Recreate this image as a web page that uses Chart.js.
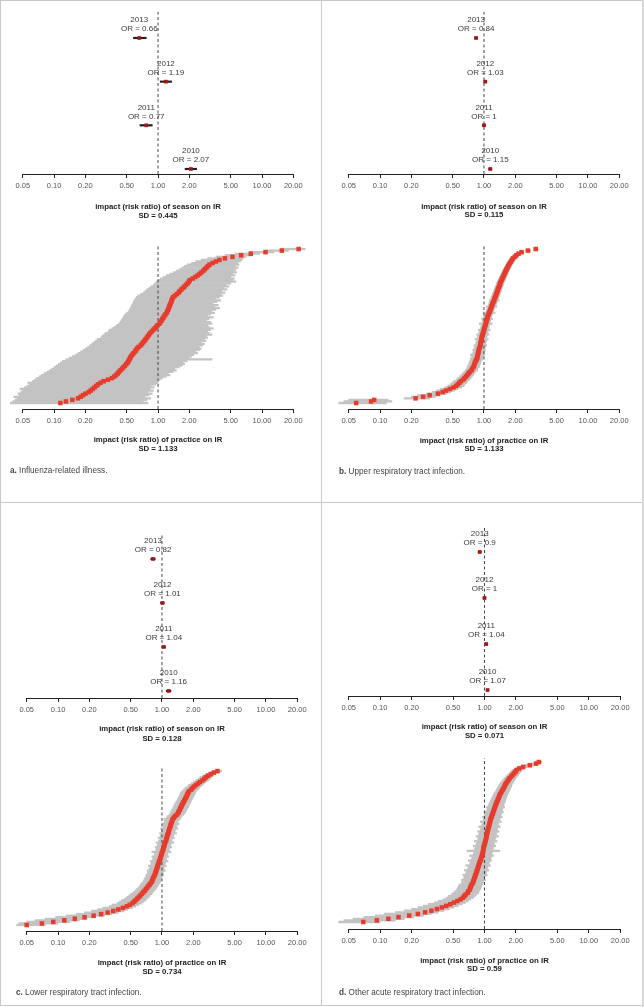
<!DOCTYPE html>
<html>
<head>
<meta charset="utf-8">
<script src="https://cdn.jsdelivr.net/npm/chart.js@4.4.0/dist/chart.umd.min.js"></script>
<style>
body { margin: 0; background: #fff; width: 644px; height: 1007px; position: relative; overflow: hidden; font-family: "Liberation Sans", Arial, sans-serif; }
canvas { position: absolute; }
.rule { position: absolute; background: #c8c8c8; }
.ttl { position: absolute; width: 260px; text-align: center; font-size: 7.8px; line-height: 9px; font-weight: bold; color: #222; white-space: nowrap; }
.cap { position: absolute; font-size: 8.2px; line-height: 9px; color: #444; white-space: nowrap; }
</style>
</head>
<body>
<div class="rule" style="left:0;top:0;width:642px;height:1px"></div>
<div class="rule" style="left:0;top:0;width:1px;height:1006px"></div>
<div class="rule" style="left:0;top:1005px;width:642px;height:1px"></div>
<div class="rule" style="left:321px;top:0;width:1px;height:1006px"></div>
<div class="rule" style="left:0;top:502px;width:642px;height:1px"></div>
<div class="rule" style="left:642px;top:0;width:2px;height:1007px;background:#d6d6d6"></div>

<script>
// --- data ---
const tickVals = [0.05, 0.1, 0.2, 0.5, 1, 2, 5, 10, 20];
const seasonYears = [2013, 2012, 2011, 2010];

const seasonA = [0.66, 1.19, 0.77, 2.07];
const seasonALo = [0.58, 1.05, 0.67, 1.82];
const seasonAHi = [0.77, 1.35, 0.88, 2.35];
const seasonB = [0.84, 1.03, 1, 1.15];
const seasonBLo = [0.81, 1.00, 0.97, 1.11];
const seasonBHi = [0.87, 1.06, 1.03, 1.19];
const seasonC = [0.82, 1.01, 1.04, 1.16];
const seasonCLo = [0.78, 0.97, 1.00, 1.10];
const seasonCHi = [0.86, 1.05, 1.08, 1.22];
const seasonD = [0.9, 1, 1.04, 1.07];
const seasonDLo = [0.87, 0.97, 1.01, 1.04];
const seasonDHi = [0.93, 1.03, 1.07, 1.10];

const sdSeason = ['0.445', '0.115', '0.128', '0.071'];
const sdPractice = ['1.133', '1.133', '0.734', '0.59'];
const captions = [
    ['a.', 'Influenza-related illness.'],
    ['b.', 'Upper respiratory tract infection.'],
    ['c.', 'Lower respiratory tract infection.'],
    ['d.', 'Other acute respiratory tract infection.']
];

// practices sorted by estimate (bottom to top)
const pracAEst = [.115,.13,.15,.17,.18,.19,.20,.215,.225,.235,
    .245,.255,.265,.28,.30,.33,.36,.38,.395,.41,
    .42,.435,.45,.465,.48,.495,.51,.52,.53,.54,
    .55,.565,.58,.60,.615,.63,.65,.68,.70,.72,
    .74,.76,.78,.80,.82,.84,.87,.90,.93,.96,
    .99,1.03,1.05,1.08,1.10,1.13,1.15,1.18,1.21,1.23,
    1.25,1.27,1.28,1.30,1.32,1.34,1.35,1.37,1.40,1.45,
    1.52,1.58,1.62,1.68,1.74,1.80,1.86,1.93,1.98,2.02,
    2.15,2.28,2.40,2.51,2.62,2.72,2.82,2.92,3.02,3.13,
    3.35,3.6,3.9,4.4,5.2,6.3,7.8,10.8,15.5,22.5];
const pracALo = [.038,.040,.042,.044,.041,.046,.045,.048,.050,.047,
    .052,.055,.058,.056,.062,.065,.068,.072,.075,.080,
    .085,.090,.095,.10,.105,.11,.115,.12,.13,.14,
    .15,.16,.17,.18,.19,.20,.21,.22,.23,.24,
    .25,.26,.28,.29,.30,.31,.33,.34,.36,.38,
    .40,.42,.43,.44,.45,.46,.47,.48,.50,.52,
    .53,.54,.55,.56,.57,.58,.59,.60,.62,.64,
    .68,.72,.75,.78,.82,.86,.90,.93,.96,1.0,
    1.05,1.12,1.2,1.3,1.4,1.5,1.6,1.7,1.8,1.9,
    2.1,2.3,2.6,3.0,3.6,4.4,5.5,7.6,11,15];
const pracAHi = [.80,.72,.78,.85,.75,.82,.88,.80,.90,.84,
    .92,.86,.95,1.0,.97,1.05,1.1,1.2,1.3,1.25,
    1.4,1.5,1.45,1.6,1.7,1.8,1.75,1.9,3.3,2.0,
    2.1,2.2,2.4,2.3,2.5,2.6,2.5,2.7,2.8,2.6,
    2.9,2.8,3.0,2.9,3.3,3.1,3.0,3.2,3.4,3.1,
    3.0,3.3,3.2,2.9,3.1,3.4,3.0,3.2,3.5,3.3,
    3.6,3.9,3.5,3.8,3.4,3.7,4.0,3.6,3.9,4.2,
    4.0,4.4,4.1,4.6,4.3,4.8,4.5,5.0,5.6,5.2,
    5.4,5.0,5.5,5.2,5.7,5.4,5.6,5.9,5.5,6.0,
    5.8,6.2,6.4,6.6,7.0,8.0,9.5,13,18,26];

const pracBEst = [.059,.082,.088,.22,.26,.30,.36,.40,.43,.47,
    .51,.54,.56,.58,.60,.63,.65,.67,.69,.71,
    .73,.76,.77,.79,.80,.81,.82,.83,.85,.86,
    .865,.87,.88,.885,.89,.90,.915,.92,.925,.93,
    .94,.945,.95,.96,.97,.98,.99,1.00,1.01,1.02,
    1.03,1.04,1.05,1.06,1.07,1.08,1.09,1.11,1.12,1.14,
    1.15,1.17,1.18,1.20,1.21,1.23,1.25,1.26,1.28,1.30,
    1.31,1.33,1.35,1.36,1.38,1.40,1.42,1.43,1.45,1.48,
    1.50,1.52,1.55,1.57,1.60,1.62,1.65,1.68,1.71,1.74,
    1.78,1.82,1.86,1.90,1.98,2.05,2.15,2.30,2.65,3.15];
const pracBLo = [.040,.045,.050,.17,.20,.23,.28,.32,.35,.38,
    .42,.45,.47,.49,.51,.54,.56,.58,.60,.62,
    .64,.66,.68,.69,.70,.71,.72,.73,.74,.75,
    .76,.74,.78,.79,.78,.80,.82,.80,.83,.84,
    .85,.82,.86,.87,.85,.89,.90,.88,.92,.93,
    .94,.90,.96,.97,.95,.99,1.00,1.02,.98,1.05,
    1.06,1.08,1.05,1.10,1.11,1.13,1.12,1.16,1.17,1.19,
    1.20,1.22,1.24,1.25,1.27,1.29,1.31,1.32,1.34,1.37,
    1.39,1.41,1.44,1.46,1.49,1.51,1.54,1.57,1.60,1.63,
    1.67,1.71,1.75,1.79,1.87,1.94,2.04,2.18,2.50,3.00];
const pracBHi = [.115,.13,.12,.30,.34,.38,.44,.48,.52,.56,
    .61,.64,.66,.68,.70,.73,.75,.77,.79,.81,
    .83,.87,.87,.90,.91,.92,.93,.94,.97,.98,
    .99,1.02,1.00,1.00,1.03,1.02,1.03,1.06,1.04,1.05,
    1.06,1.10,1.06,1.07,1.12,1.09,1.10,1.15,1.11,1.12,
    1.13,1.20,1.15,1.16,1.21,1.18,1.19,1.21,1.28,1.24,
    1.25,1.27,1.33,1.31,1.32,1.34,1.40,1.37,1.39,1.42,
    1.43,1.45,1.47,1.48,1.50,1.52,1.54,1.55,1.57,1.60,
    1.62,1.64,1.67,1.69,1.72,1.74,1.77,1.80,1.83,1.86,
    1.90,1.94,1.98,2.02,2.10,2.17,2.27,2.42,2.80,3.30];

const pracCEst = [.05,.07,.09,.115,.145,.18,.22,.26,.30,.34,
    .38,.42,.46,.49,.52,.54,.56,.58,.60,.62,
    .64,.66,.68,.70,.72,.74,.76,.78,.80,.81,
    .82,.835,.85,.86,.87,.88,.89,.90,.91,.92,
    .93,.94,.955,.965,.975,.985,.995,1.005,1.02,1.03,
    1.04,1.05,1.06,1.07,1.09,1.10,1.11,1.12,1.13,1.15,
    1.16,1.17,1.18,1.20,1.21,1.22,1.24,1.25,1.27,1.30,
    1.34,1.39,1.43,1.45,1.48,1.50,1.53,1.55,1.58,1.61,
    1.64,1.67,1.70,1.73,1.76,1.78,1.82,1.90,1.96,2.03,
    2.12,2.22,2.32,2.45,2.55,2.65,2.78,2.95,3.15,3.42];
const pracCLo = [.040,.042,.050,.060,.075,.095,.12,.15,.18,.21,
    .24,.27,.31,.33,.37,.39,.41,.44,.46,.48,
    .50,.53,.55,.57,.59,.61,.62,.64,.66,.67,
    .68,.70,.70,.72,.73,.72,.75,.76,.74,.78,
    .79,.77,.81,.82,.80,.84,.85,.80,.87,.88,
    .86,.90,.91,.88,.93,.95,.92,.96,.97,.95,
    .99,1.00,.97,1.02,1.03,1.00,1.05,1.06,1.04,1.10,
    1.13,1.17,1.20,1.22,1.24,1.26,1.29,1.31,1.33,1.36,
    1.39,1.41,1.44,1.47,1.49,1.51,1.55,1.61,1.66,1.73,
    1.80,1.90,2.00,2.12,2.22,2.32,2.45,2.62,2.82,3.10];
const pracCHi = [.075,.10,.13,.16,.19,.23,.28,.33,.38,.43,
    .47,.52,.56,.60,.64,.67,.70,.72,.75,.77,
    .80,.82,.84,.87,.89,.91,.93,.95,.97,.98,
    .99,1.00,1.04,1.02,1.03,1.08,1.04,1.05,1.10,1.07,
    1.08,1.14,1.10,1.11,1.16,1.13,1.14,1.22,1.17,1.18,
    1.24,1.20,1.22,1.30,1.24,1.25,1.32,1.29,1.30,1.38,
    1.33,1.35,1.42,1.38,1.40,1.46,1.42,1.44,1.50,1.52,
    1.56,1.62,1.67,1.70,1.73,1.76,1.80,1.82,1.86,1.89,
    1.93,1.96,2.00,2.03,2.07,2.10,2.14,2.22,2.28,2.35,
    2.45,2.55,2.65,2.80,2.90,3.00,3.12,3.30,3.50,3.75];

const pracDEst = [.069,.093,.12,.15,.19,.23,.27,.31,.35,.39,
    .43,.47,.51,.55,.59,.62,.64,.66,.69,.70,
    .72,.73,.74,.75,.77,.78,.79,.80,.81,.82,
    .83,.84,.85,.86,.87,.88,.89,.90,.915,.925,
    .935,.945,.955,.965,.97,.975,.98,.99,1.00,1.01,
    1.02,1.03,1.04,1.045,1.05,1.06,1.07,1.08,1.09,1.10,
    1.11,1.12,1.13,1.14,1.15,1.17,1.18,1.20,1.21,1.23,
    1.24,1.26,1.27,1.29,1.31,1.33,1.35,1.37,1.39,1.41,
    1.44,1.47,1.50,1.53,1.56,1.58,1.62,1.66,1.70,1.74,
    1.80,1.86,1.92,1.98,2.03,2.15,2.35,2.72,3.12,3.32];
const pracDLo = [.040,.045,.055,.07,.09,.11,.14,.17,.20,.23,
    .26,.29,.33,.36,.40,.43,.45,.48,.50,.52,
    .54,.55,.56,.57,.60,.61,.60,.63,.64,.62,
    .66,.67,.64,.69,.70,.66,.72,.73,.70,.75,
    .76,.72,.78,.79,.68,.80,.81,.78,.83,.84,
    .80,.86,.87,.83,.88,.89,.86,.91,.92,.88,
    .94,.95,.91,.97,.98,.95,1.00,1.02,.99,1.05,
    1.06,1.04,1.09,1.10,1.12,1.14,1.16,1.18,1.20,1.22,
    1.25,1.28,1.30,1.33,1.36,1.38,1.42,1.46,1.50,1.54,
    1.60,1.66,1.72,1.78,1.84,1.95,2.10,2.45,2.85,3.05];
const pracDHi = [.10,.14,.17,.21,.26,.31,.36,.41,.46,.51,
    .56,.61,.66,.70,.74,.78,.81,.84,.88,.89,
    .91,.93,.94,.95,.97,.98,1.02,1.00,1.01,1.06,
    1.04,1.05,1.10,1.07,1.08,1.14,1.10,1.12,1.17,1.15,
    1.16,1.22,1.18,1.19,1.40,1.21,1.22,1.28,1.24,1.25,
    1.32,1.27,1.28,1.36,1.30,1.31,1.38,1.33,1.34,1.42,
    1.36,1.37,1.45,1.40,1.41,1.48,1.44,1.46,1.52,1.49,
    1.50,1.56,1.53,1.55,1.57,1.59,1.61,1.63,1.65,1.67,
    1.70,1.73,1.76,1.79,1.82,1.84,1.88,1.92,1.96,2.00,
    2.06,2.12,2.18,2.24,2.30,2.42,2.58,2.95,3.35,3.55];

// --- layout (pixel geometry of each plot) ---
const panels = [
    { x: 0,   cx: 158,   capX: 10,  capY: 470,
      season:   { left: 21, right: 295, top: 12,  axis: 174, ymin: 0.885, ymax: 4.595, tY: 206.5, sdY: 215 },
      practice: { left: 21, right: 295, top: 245, axis: 409, ymin: -3.86, ymax: 101.6, tY: 439.5, sdY: 448.3 } },
    { x: 322, cx: 484,   capX: 339, capY: 471,
      season:   { left: 347, right: 621, top: 12,  axis: 174, ymin: 0.885, ymax: 4.595, tY: 206, sdY: 214.5 },
      practice: { left: 347, right: 621, top: 245, axis: 409, ymin: -3.86, ymax: 101.6, tY: 440, sdY: 448.5 } },
    { x: 0,   cx: 162,   capX: 16,  capY: 992,
      season:   { left: 25, right: 299, top: 533, axis: 698, ymin: 0.84, ymax: 4.59, tY: 728, sdY: 738 },
      practice: { left: 25, right: 299, top: 767, axis: 931, ymin: -3.86, ymax: 101.6, tY: 962, sdY: 971.5 } },
    { x: 322, cx: 484.5, capX: 339, capY: 992,
      season:   { left: 347, right: 622, top: 526, axis: 696, ymin: 0.87, ymax: 4.565, tY: 726.7, sdY: 735.5 },
      practice: { left: 347, right: 622, top: 758, axis: 929, ymin: -4.33, ymax: 101.5, tY: 960, sdY: 968.5 } }
];

const seasonSets = [
    [seasonA, seasonALo, seasonAHi], [seasonB, seasonBLo, seasonBHi],
    [seasonC, seasonCLo, seasonCHi], [seasonD, seasonDLo, seasonDHi]
];
const practiceSets = [
    [pracAEst, pracALo, pracAHi], [pracBEst, pracBLo, pracBHi],
    [pracCEst, pracCLo, pracCHi], [pracDEst, pracDLo, pracDHi]
];

Chart.defaults.font.family = '"Liberation Sans", Arial, sans-serif';
Chart.defaults.animation = false;

// year / OR text above each season estimate
const orLabels = {
    id: 'orLabels',
    afterDatasetsDraw(chart) {
        const ctx = chart.ctx;
        const meta = chart.getDatasetMeta(0);
        const vals = chart.data.datasets[0].data;
        ctx.save();
        ctx.font = '8px "Liberation Sans", Arial, sans-serif';
        ctx.fillStyle = '#3a3a3a';
        ctx.textAlign = 'center';
        ctx.textBaseline = 'middle';
        meta.data.forEach((pt, i) => {
            ctx.fillText(String(seasonYears[i]), pt.x, pt.y - 18);
            ctx.fillText('OR = ' + String(vals[i].x), pt.x, pt.y - 9);
        });
        ctx.restore();
    }
};

// R style axis: line only from first to last tick
const axisLine = {
    id: 'axisLine',
    afterDraw(chart) {
        const sx = chart.scales.x;
        const ctx = chart.ctx;
        const y = Math.floor(chart.chartArea.bottom) + 0.5;
        ctx.save();
        ctx.strokeStyle = '#222';
        ctx.lineWidth = 1;
        ctx.beginPath();
        ctx.moveTo(Math.round(sx.getPixelForValue(tickVals[0])), y);
        ctx.lineTo(Math.round(sx.getPixelForValue(tickVals[tickVals.length - 1])) + 1, y);
        ctx.stroke();
        ctx.restore();
    }
};

function addText(cls, left, top, html) {
    const d = document.createElement('div');
    d.className = cls;
    d.style.left = left + 'px';
    d.style.top = top + 'px';
    d.innerHTML = html;
    document.body.appendChild(d);
}

function makeChart(panel, g, est, lo, hi, isSeason) {
    const cv = document.createElement('canvas');
    const top0 = g.top - 10;
    cv.width = 321;
    cv.height = g.axis - top0 + 30;
    cv.style.left = panel.x + 'px';
    cv.style.top = top0 + 'px';
    document.body.appendChild(cv);

    // plot area spans nearly the whole panel; 0.05 and 20 land on g.left / g.right
    const areaL = panel.x + 2, areaR = panel.x + 319;
    const ppd = (g.right - g.left) / Math.log10(tickVals[tickVals.length - 1] / tickVals[0]);
    const xmin = tickVals[0] * Math.pow(10, -(g.left - areaL) / ppd);
    const xmax = tickVals[tickVals.length - 1] * Math.pow(10, (areaR - g.right) / ppd);

    const ypos = est.map((v, i) => isSeason ? est.length - i : i);

    new Chart(cv.getContext('2d'), {
        type: 'bar',
        data: {
            datasets: [{
                type: 'scatter',
                data: est.map((v, i) => ({ x: v, y: ypos[i] })),
                pointStyle: 'rect',
                pointRadius: isSeason ? 2.6 : 3.2,
                backgroundColor: isSeason ? '#a3161a' : '#e63c2d',
                borderWidth: 0,
                clip: false,
                order: 0
            }, {
                type: 'line',
                data: [{ x: 1, y: g.ymin }, { x: 1, y: g.ymax }],
                borderColor: '#444',
                borderWidth: 1,
                borderDash: [3, 2.5],
                pointRadius: 0,
                clip: false,
                order: 1
            }, {
                type: 'bar',
                data: lo.map((v, i) => ({ x: [v, hi[i]], y: ypos[i] })),
                backgroundColor: isSeason ? '#1e1e1e' : '#c3c3c3',
                barThickness: isSeason ? 1.5 : 1.6,
                borderWidth: 0,
                clip: false,
                order: 2
            }]
        },
        options: {
            indexAxis: 'y',
            responsive: false,
            events: [],
            layout: { padding: { left: 2, right: 2, top: 10, bottom: 10 } },
            plugins: { legend: { display: false }, tooltip: { enabled: false } },
            scales: {
                x: {
                    type: 'logarithmic',
                    position: 'bottom',
                    min: xmin,
                    max: xmax,
                    offset: false,
                    afterBuildTicks: s => { s.ticks = tickVals.map(v => ({ value: v })); },
                    afterFit: s => { s.height = 20; },
                    ticks: {
                        autoSkip: false, maxRotation: 0, minRotation: 0, padding: 3,
                        color: '#555', font: { size: 7.5 },
                        major: { enabled: false },
                        callback: v => Number(v).toFixed(2)
                    },
                    grid: { display: true, drawOnChartArea: false, drawTicks: true, tickLength: 4, tickColor: '#222', offset: false },
                    border: { display: false }
                },
                y: {
                    type: 'linear',
                    min: g.ymin,
                    max: g.ymax,
                    offset: false,
                    display: false,
                    grid: { offset: false }
                }
            }
        },
        plugins: isSeason ? [orLabels, axisLine] : [axisLine]
    });
}

panels.forEach((p, k) => {
    const s = seasonSets[k];
    const q = practiceSets[k];
    makeChart(p, p.season, s[0], s[1], s[2], true);
    makeChart(p, p.practice, q[0], q[1], q[2], false);

    addText('ttl', p.cx - 130, p.season.tY - 4.5, 'impact (risk ratio) of season on IR');
    addText('ttl', p.cx - 130, p.season.sdY - 4.5, 'SD = ' + sdSeason[k]);
    addText('ttl', p.cx - 130, p.practice.tY - 4.5, 'impact (risk ratio) of practice on IR');
    addText('ttl', p.cx - 130, p.practice.sdY - 4.5, 'SD = ' + sdPractice[k]);
    addText('cap', p.capX, p.capY - 4.5, '<b>' + captions[k][0] + '</b> ' + captions[k][1]);
});
</script>
</body>
</html>
